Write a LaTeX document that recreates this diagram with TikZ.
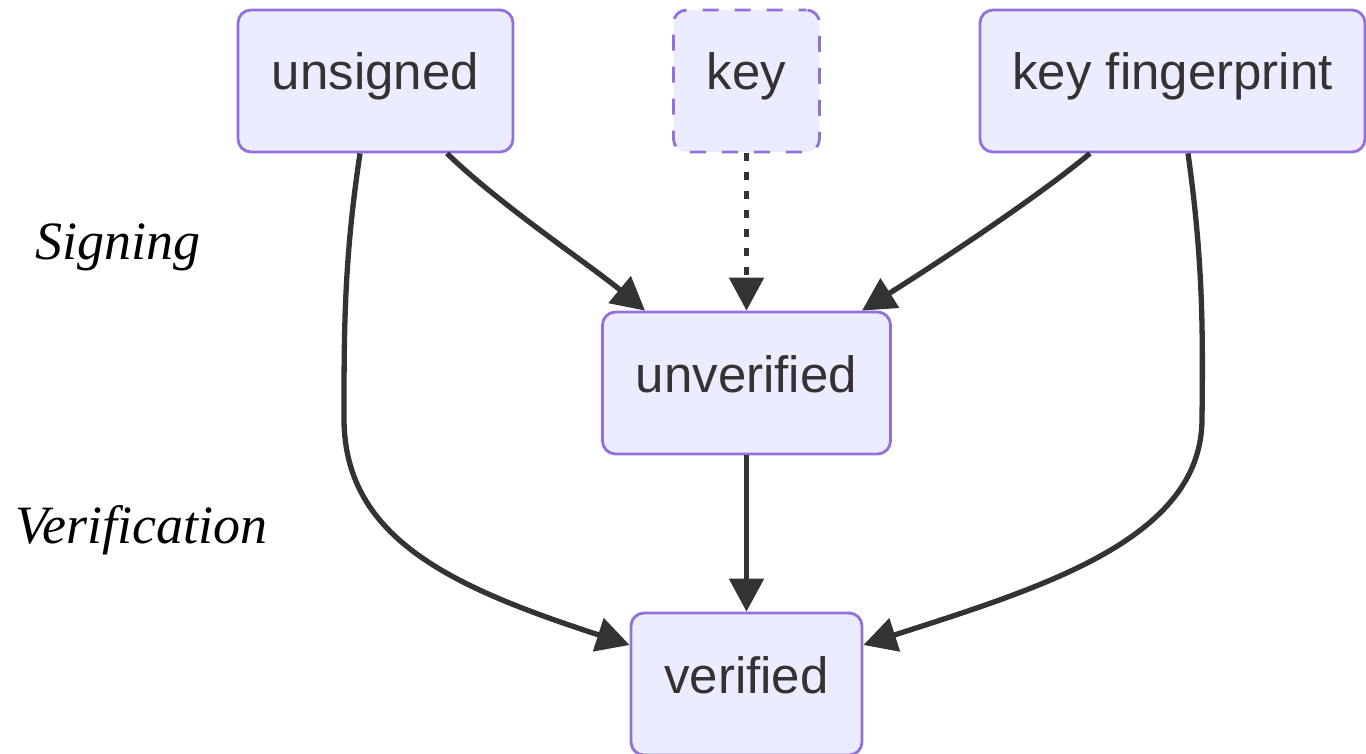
\documentclass[tikz,border=0pt]{standalone}
\usepackage{fontspec}
\setmainfont{Liberation Sans}
\newfontfamily\lblfont{Liberation Serif}
\usetikzlibrary{arrows.meta}
\definecolor{nodefill}{HTML}{ECECFF}
\definecolor{nodeline}{HTML}{9370DB}
\definecolor{edgecol}{HTML}{333333}
\tikzset{
  state/.style={draw=nodeline, fill=nodefill, line width=2.8pt, rounded corners=13pt,
    minimum height=142pt, text=edgecol, font=\fontsize{51}{60}\selectfont,
    text height=36pt, text depth=18pt, inner sep=0pt},
  optstate/.style={state, dash pattern=on 16pt off 16pt, dash phase=8pt},
  flow/.style={draw=edgecol, line width=5.3pt, -{Triangle[length=33pt,width=34pt]}},
  dottedflow/.style={flow, dash pattern=on 8pt off 11pt},
  phase/.style={inner sep=0pt, anchor=base west, text=black,
    font=\lblfont\itshape\fontsize{54}{60}\selectfont}
}
\begin{document}
\begin{tikzpicture}[x=1pt,y=-1pt]
\useasboundingbox (0,0) rectangle (1366,754);
\node[state, minimum width=275pt] (u) at (375.5,81) {unsigned};
\node[optstate, minimum width=146pt] (k) at (746.5,81) {key};
\node[state, minimum width=385pt] (kf) at (1172.5,81) {key fingerprint};
\node[state, minimum width=288pt] (uv) at (746.5,383) {unverified};
\node[state, minimum width=231pt] (v) at (746.5,684) {verified};
\node[phase] (sig) at (35,260) {Signing};
\node[phase] (ver) at (15,543) {Verification};

\draw[flow] ([xshift=71.5pt]u.south) .. controls (500,205) and (590,265) .. ([xshift=-101.5pt]uv.north);
\draw[dottedflow] (k.south) -- (uv.north);
\draw[flow] ([xshift=-82.5pt]kf.south) .. controls (1040,195) and (950,255) .. ([xshift=115.5pt]uv.north);
\draw[flow] (uv.south) -- (v.north);
\draw[flow] ([xshift=-15.5pt]u.south) .. controls (344,260) and (344,330) .. (344,420)
   .. controls (345,540) and (455,588) .. ([yshift=39pt]v.west);
\draw[flow] ([xshift=15.5pt]kf.south) .. controls (1203,260) and (1203,330) .. (1202,420)
   .. controls (1201,540) and (1040,588) .. ([yshift=39pt]v.east);
\end{tikzpicture}
\end{document}
